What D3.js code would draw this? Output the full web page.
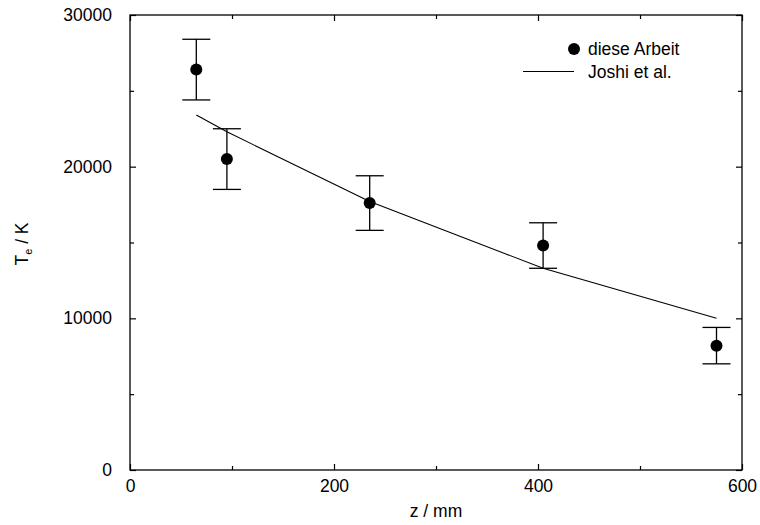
<!DOCTYPE html>
<html>
<head>
<meta charset="utf-8">
<script src="https://cdn.jsdelivr.net/npm/d3@7"></script>
<style>
  html, body { margin: 0; padding: 0; background: #fff; }
  svg { display: block; font-family: "Liberation Sans", Arial, sans-serif; }
</style>
</head>
<body>
<svg id="chart" width="760" height="525"></svg>
<script>
// ---- data ----
const zPoints = [65, 95, 235, 405, 575];          // z / mm, "diese Arbeit"
const tePoints = [26400, 20500, 17600, 14800, 8200]; // T_e / K
const teErrors = [2000, 2000, 1800, 1500, 1200];
const zJoshi = [65, 95, 235, 405, 575];
const teJoshi = [23400, 22300, 17700, 13300, 10000];
const xMajorTicks = [0, 200, 400, 600];
const xMinorTicks = [100, 300, 500];
const yMajorTicks = [0, 10000, 20000, 30000];
const yMinorTicks = [5000, 15000, 25000];
const legendLabels = ["diese Arbeit", "Joshi et al."];

// ---- layout ----
const svg = d3.select("#chart");
const L = 130, R = 742, T = 15, B = 470;
const x = d3.scaleLinear().domain([0, 600]).range([L, R]);
const y = d3.scaleLinear().domain([0, 30000]).range([B, T]);
const fs = 17.5;

// frame
svg.append("rect").attr("x", L).attr("y", T).attr("width", R - L).attr("height", B - T)
  .attr("fill", "none").attr("stroke", "#000").attr("stroke-width", 1.3);

function styleAxis(g) {
  g.select(".domain").remove();
  g.selectAll("line").attr("stroke", "#000").attr("stroke-width", 1.2);
  g.selectAll("text").attr("fill", "#000").style("font-size", fs + "px")
    .style("font-family", '"Liberation Sans", Arial, sans-serif');
}

// bottom
svg.append("g").attr("transform", `translate(0,${B})`)
  .call(d3.axisBottom(x).tickValues(xMajorTicks).tickSizeInner(-6).tickSizeOuter(0).tickPadding(10).tickFormat(d3.format("d")))
  .call(styleAxis);
svg.append("g").attr("transform", `translate(0,${B})`)
  .call(d3.axisBottom(x).tickValues(xMinorTicks).tickSizeInner(-4).tickSizeOuter(0).tickFormat(""))
  .call(styleAxis);
// top
svg.append("g").attr("transform", `translate(0,${T})`)
  .call(d3.axisTop(x).tickValues(xMajorTicks).tickSizeInner(-6).tickSizeOuter(0).tickFormat(""))
  .call(styleAxis);
svg.append("g").attr("transform", `translate(0,${T})`)
  .call(d3.axisTop(x).tickValues(xMinorTicks).tickSizeInner(-4).tickSizeOuter(0).tickFormat(""))
  .call(styleAxis);
// left
svg.append("g").attr("transform", `translate(${L},0)`)
  .call(d3.axisLeft(y).tickValues(yMajorTicks).tickSizeInner(-6).tickSizeOuter(0).tickPadding(18).tickFormat(d3.format("d")))
  .call(styleAxis);
svg.append("g").attr("transform", `translate(${L},0)`)
  .call(d3.axisLeft(y).tickValues(yMinorTicks).tickSizeInner(-4).tickSizeOuter(0).tickFormat(""))
  .call(styleAxis);
// right
svg.append("g").attr("transform", `translate(${R},0)`)
  .call(d3.axisRight(y).tickValues(yMajorTicks).tickSizeInner(-6).tickSizeOuter(0).tickFormat(""))
  .call(styleAxis);
svg.append("g").attr("transform", `translate(${R},0)`)
  .call(d3.axisRight(y).tickValues(yMinorTicks).tickSizeInner(-4).tickSizeOuter(0).tickFormat(""))
  .call(styleAxis);

// axis titles
svg.append("text").attr("x", (L + R) / 2).attr("y", 517).attr("text-anchor", "middle")
  .style("font-size", fs + "px").text("z / mm");
const yl = svg.append("text").attr("transform", `translate(28,244) rotate(-90)`)
  .attr("text-anchor", "middle").style("font-size", fs + "px");
yl.append("tspan").text("T");
yl.append("tspan").attr("dy", 4).style("font-size", "11px").text("e");
yl.append("tspan").attr("dy", -4).text(" / K");

// Joshi line
const line = d3.line().x((d, i) => x(zJoshi[i])).y(d => y(d));
svg.append("path").datum(teJoshi).attr("d", line)
  .attr("fill", "none").attr("stroke", "#000").attr("stroke-width", 1.1);

// error bars
const pts = zPoints.map((z, i) => ({ z, t: tePoints[i], e: teErrors[i] }));
const cap = 14;
const eb = svg.append("g").attr("stroke", "#000").attr("stroke-width", 1.3);
eb.selectAll(".v").data(pts).join("line")
  .attr("x1", d => x(d.z)).attr("x2", d => x(d.z))
  .attr("y1", d => y(d.t - d.e)).attr("y2", d => y(d.t + d.e));
eb.selectAll(".ct").data(pts).join("line")
  .attr("x1", d => x(d.z) - cap).attr("x2", d => x(d.z) + cap)
  .attr("y1", d => y(d.t + d.e)).attr("y2", d => y(d.t + d.e));
eb.selectAll(".cb").data(pts).join("line")
  .attr("x1", d => x(d.z) - cap).attr("x2", d => x(d.z) + cap)
  .attr("y1", d => y(d.t - d.e)).attr("y2", d => y(d.t - d.e));

// points
svg.append("g").selectAll("circle").data(pts).join("circle")
  .attr("cx", d => x(d.z)).attr("cy", d => y(d.t)).attr("r", 6).attr("fill", "#000");

// legend
const lg = svg.append("g");
lg.append("circle").attr("cx", 574).attr("cy", 49).attr("r", 6).attr("fill", "#000");
lg.append("text").attr("x", 588).attr("y", 55).style("font-size", fs + "px").text(legendLabels[0]);
lg.append("line").attr("x1", 523).attr("x2", 574).attr("y1", 71.5).attr("y2", 71.5)
  .attr("stroke", "#000").attr("stroke-width", 1.1);
lg.append("text").attr("x", 588).attr("y", 78).style("font-size", fs + "px").text(legendLabels[1]);
</script>
</body>
</html>
